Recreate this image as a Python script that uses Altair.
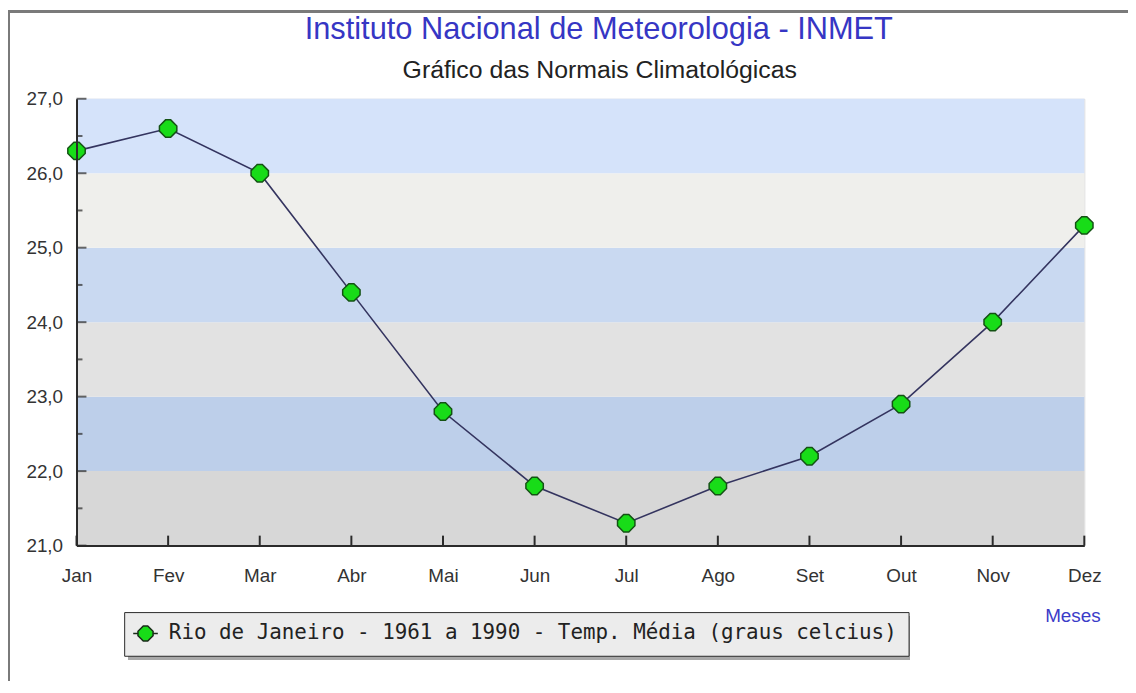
import altair as alt
import pandas as pd

# ---- data ----
meses = ["Jan", "Fev", "Mar", "Abr", "Mai", "Jun", "Jul", "Ago", "Set", "Out", "Nov", "Dez"]
temp_media = [26.3, 26.6, 26.0, 24.4, 22.8, 21.8, 21.3, 21.8, 22.2, 22.9, 24.0, 25.3]
serie_nome = "Rio de Janeiro - 1961 a 1990 - Temp. Média (graus celcius)"
titulo = "Instituto Nacional de Meteorologia - INMET"
subtitulo = "Gráfico das Normais Climatológicas"

faixa_inicio = [21, 22, 23, 24, 25, 26]
faixa_fim = [22, 23, 24, 25, 26, 27]
faixa_tom = ["c3", "a3", "c2", "a2", "c1", "a1"]

ticks_maiores = [21, 22, 23, 24, 25, 26, 27]
ticks_menores = [21.5, 22.5, 23.5, 24.5, 25.5, 26.5]

# ---- styling ----
W, H = 1015, 450
PAD_L, PAD_T, PAD_R, PAD_B = 69, 89, 44, 136
tom_dominio = ["a1", "c1", "a2", "c2", "a3", "c3"]
tom_cores = ["#d5e3fa", "#efefec", "#c9d9f1", "#e2e2e2", "#bdcfea", "#d7d7d7"]
marker_path = "M-0.28,-0.95L0.28,-0.95L0.95,-0.28L0.95,0.28L0.28,0.95L-0.28,0.95L-0.95,0.28L-0.95,-0.28Z"
legend_path = ("M-1.55,0L-0.9,0M0.9,0L1.55,0"
               "M-0.28,-0.95L0.28,-0.95L0.95,-0.28L0.95,0.28L0.28,0.95L-0.28,0.95L-0.95,0.28L-0.95,-0.28Z")

df = pd.DataFrame({"mes": meses, "temp": temp_media, "serie": [serie_nome] * len(meses)})
bands = pd.DataFrame({"lo": faixa_inicio, "hi": faixa_fim, "tom": faixa_tom})
tmaj = pd.DataFrame({"v": ticks_maiores})
tmin = pd.DataFrame({"v": ticks_menores})
titles = pd.DataFrame({"t": [titulo]})
subtitles = pd.DataFrame({"t": [subtitulo]})

yscale = alt.Scale(domain=[21, 27], nice=False, zero=False)
xscale = alt.Scale(type="point", domain=meses, padding=0)

band_layer = alt.Chart(bands).mark_rect().encode(
    y=alt.Y("lo:Q", scale=yscale,
            axis=alt.Axis(values=ticks_maiores, ticks=False, tickSize=0, title=None,
                          labelExpr="replace(format(datum.value, '.1f'), '.', ',')",
                          labelFont="Liberation Sans", labelFontSize=19, labelColor="#333333",
                          labelPadding=14, domainColor="#2a2a2a", domainWidth=2, grid=False,
                          zindex=1)),
    y2="hi:Q",
    fill=alt.Fill("tom:N", scale=alt.Scale(domain=tom_dominio, range=tom_cores), legend=None),
)

line_layer = alt.Chart(df).mark_line(color="#34345f", strokeWidth=1.6).encode(
    x=alt.X("mes:O", scale=xscale, sort=meses,
            axis=alt.Axis(ticks=False, tickSize=0, labelAngle=0, grid=False,
                          labelFont="Liberation Sans", labelFontSize=19, labelColor="#333333",
                          labelPadding=21, domainColor="#2a2a2a", domainWidth=2,
                          title="Meses", titleColor="#3b3bc8", titleFont="Liberation Sans",
                          titleFontSize=19, titleFontWeight="normal", titleX=1031, titleY=70,
                          titleAlign="right", titleBaseline="middle", titleAngle=0,
                          zindex=1)),
    y=alt.Y("temp:Q", scale=yscale),
)

point_layer = alt.Chart(df).mark_point(
    filled=True, shape=marker_path, size=340, stroke="#145214", strokeWidth=1.5, opacity=1
).encode(
    x=alt.X("mes:O", scale=xscale, sort=meses),
    y=alt.Y("temp:Q", scale=yscale),
    color=alt.Color("serie:N", scale=alt.Scale(domain=[serie_nome], range=["#18dc18"]),
                    legend=alt.Legend(title=None, orient="none", legendX=48, legendY=517,
                                      fillColor="#ececec", strokeColor="#2a2a2a", padding=11,
                                      symbolType=legend_path, symbolSize=256,
                                      symbolStrokeColor="#1a2a1a", symbolStrokeWidth=1.5,
                                      symbolFillColor="#18dc18",
                                      labelFont="DejaVu Sans Mono", labelFontSize=21,
                                      labelColor="#222222", labelOffset=13, labelLimit=0,
                                      zindex=1)),
)

ytick_major = alt.Chart(tmaj).mark_tick(orient="horizontal", size=10, thickness=2, color="#2a2a2a").encode(
    y=alt.Y("v:Q", scale=yscale), x=alt.value(5)
)
ytick_minor = alt.Chart(tmin).mark_tick(orient="horizontal", size=6, thickness=2, color="#2a2a2a").encode(
    y=alt.Y("v:Q", scale=yscale), x=alt.value(3)
)
xtick = alt.Chart(df).mark_rule(strokeWidth=2, color="#2a2a2a").encode(
    x=alt.X("mes:O", scale=xscale, sort=meses), y=alt.value(H - 10), y2=alt.value(H)
)

# legend drop shadow (decoration)
shadow = alt.Chart(df).mark_rect(color="#a8a8a8").encode(
    x=alt.value(52), x2=alt.value(839), y=alt.value(521), y2=alt.value(565)
)

# page frame lines (decoration)
frame_top = alt.Chart(df).mark_rule(color="#7a7a7a", strokeWidth=2).encode(
    x=alt.value(-PAD_L), x2=alt.value(W + PAD_R), y=alt.value(-PAD_T + 1)
)
frame_left = alt.Chart(df).mark_rule(color="#7a7a7a", strokeWidth=2).encode(
    x=alt.value(-PAD_L + 1), y=alt.value(-PAD_T), y2=alt.value(H + PAD_B)
)

# titles as text marks
title_layer = alt.Chart(titles).mark_text(
    font="Liberation Sans", fontSize=31, color="#3636c4", align="center", baseline="alphabetic"
).encode(text="t:N", x=alt.value(526), y=alt.value(-60))
subtitle_layer = alt.Chart(subtitles).mark_text(
    font="Liberation Sans", fontSize=25, color="#222222", align="center", baseline="alphabetic"
).encode(text="t:N", x=alt.value(527), y=alt.value(-21))

chart = alt.layer(
    band_layer, shadow, line_layer, point_layer, ytick_major, ytick_minor, xtick,
    frame_top, frame_left, title_layer, subtitle_layer
).properties(
    width=W, height=H,
    autosize=alt.AutoSizeParams(type="none"),
    padding={"left": PAD_L, "top": PAD_T, "right": PAD_R, "bottom": PAD_B},
).configure_view(stroke=None).configure(background="white")

chart.save("out.html", embed_options={"renderer": "svg", "actions": False})
